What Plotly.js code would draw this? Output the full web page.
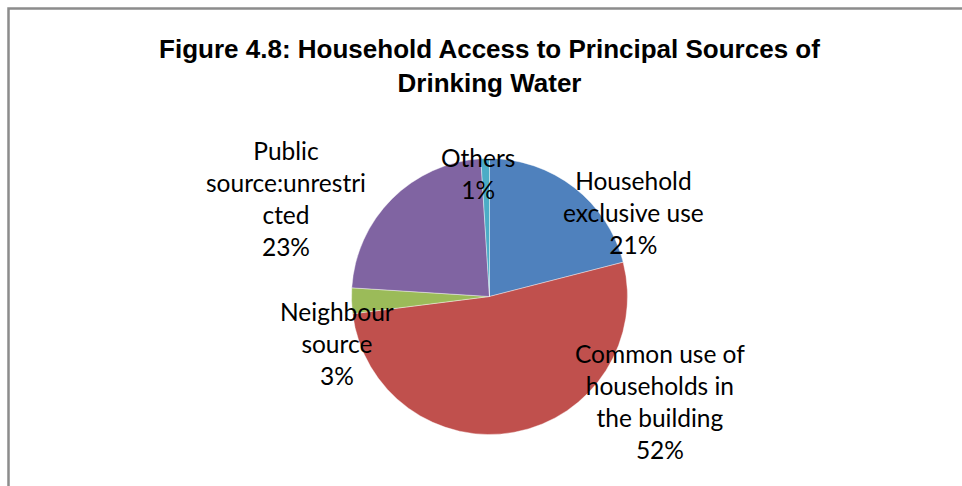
<!DOCTYPE html>
<html>
<head>
<meta charset="utf-8">
<script src="https://cdn.plot.ly/plotly-3.0.1.min.js"></script>
<style>
  html, body { margin: 0; padding: 0; background: #ffffff; }
  #chart { width: 962px; height: 486px; }
</style>
</head>
<body>
<div id="chart"></div>
<script>
// ---- data ----
const categories = [
  "Household exclusive use",
  "Common use of households in the building",
  "Neighbour source",
  "Public source:unrestricted",
  "Others"
];
// wrapped label text as it appears on the chart
const wrappedLabels = [
  "Household<br>exclusive use",
  "Common use of<br>households in<br>the building",
  "Neighbour<br>source",
  "Public<br>source:unrestri<br>cted",
  "Others"
];
const shares = [21, 52, 3, 23, 1];
const sliceColors = ["#4F81BD", "#C0504D", "#9BBB59", "#8064A2", "#4BACC6"];

// label anchor points (pixel centres on the 962x486 page)
const labelPos = [
  [633, 212],
  [660, 401],
  [337, 343],
  [286, 198],
  [478, 173]
];

const W = 962, H = 486;
const cx = 489.5, cy = 296.5, R = 138;

const annotations = categories.map((c, i) => ({
  xref: "paper", yref: "paper",
  x: labelPos[i][0] / W,
  y: 1 - labelPos[i][1] / H,
  xanchor: "center", yanchor: "middle",
  showarrow: false,
  align: "center",
  text: wrappedLabels[i] + "<br>" + shares[i] + "%",
  font: { family: "Lato, 'Open Sans', sans-serif", size: 24.5, color: "#000000" }
}));

const trace = {
  type: "pie",
  labels: categories,
  values: shares,
  sort: false,
  direction: "clockwise",
  rotation: 0,
  textinfo: "none",
  hoverinfo: "label+percent",
  marker: { colors: sliceColors, line: { color: "#ffffff", width: 0.4 } },
  domain: {
    x: [(cx - R) / W, (cx + R) / W],
    y: [1 - (cy + R) / H, 1 - (cy - R) / H]
  },
  showlegend: false
};

const layout = {
  width: W, height: H,
  margin: { l: 0, r: 0, t: 0, b: 0 },
  paper_bgcolor: "#ffffff",
  plot_bgcolor: "#ffffff",
  title: {
    text: "Figure 4.8: Household Access to Principal Sources of<br>Drinking Water",
    xref: "paper", yref: "paper",
    x: 489.5 / W, xanchor: "center",
    y: 1 - 58 / H, yanchor: "middle",
    font: { family: "'Liberation Sans', Arial, sans-serif", size: 26, color: "#000000", weight: "bold" }
  },
  annotations: annotations,
  shapes: [{
    type: "path", xref: "paper", yref: "paper",
    path: "M " + (8.5 / W) + " 0 L " + (8.5 / W) + " " + (1 - 8.5 / H) + " L 1.01 " + (1 - 8.5 / H),
    line: { color: "#8c8c8c", width: 2.5 }
  }]
};

Plotly.newPlot("chart", [trace], layout, { displayModeBar: false, staticPlot: true });
</script>
</body>
</html>
